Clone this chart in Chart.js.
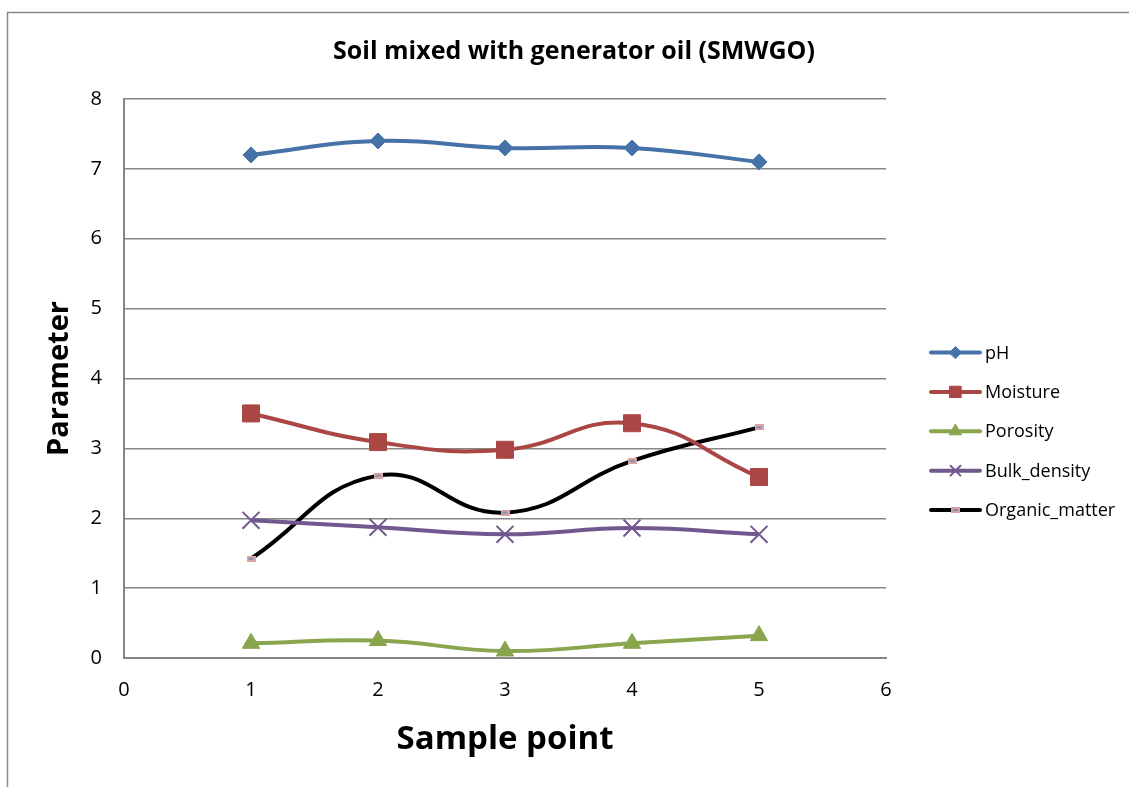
<!DOCTYPE html>
<html>
<head>
<meta charset="utf-8">
<script src="https://cdn.jsdelivr.net/npm/chart.js@4.4.0/dist/chart.umd.min.js"></script>
<style>
  html, body { margin: 0; padding: 0; background: #fff; overflow: hidden; }
  canvas { display: block; }
</style>
</head>
<body>
<canvas id="soilChart" width="1129" height="787"></canvas>
<script>
// values
const samplePoints = [1, 2, 3, 4, 5];
const phValues = [7.2, 7.4, 7.3, 7.3, 7.1];
const moistureValues = [3.5, 3.09, 2.98, 3.36, 2.59];
const porosityValues = [0.21, 0.25, 0.1, 0.21, 0.32];
const bulkDensityValues = [1.97, 1.87, 1.77, 1.86, 1.77];
const organicMatterValues = [1.42, 2.61, 2.08, 2.82, 3.3];
const seriesNames = ['pH', 'Moisture', 'Porosity', 'Bulk_density', 'Organic_matter'];

const FONT = '"Open Sans", sans-serif';
const GRID = '#868686';

function toPoints(values) {
  return samplePoints.map((x, i) => ({ x: x, y: values[i] }));
}

// small pink "dash" marker used by Excel for the organic matter series
function dashMarker(w, h) {
  const c = document.createElement('canvas');
  c.width = w; c.height = h;
  const g = c.getContext('2d');
  g.fillStyle = '#d9a3a2';
  g.fillRect(0, 0, w, h);
  g.fillStyle = '#7a8fc2';
  g.fillRect(2, Math.floor(h / 2) - 1, w - 4, 2);
  return c;
}

const seriesStyles = [
  { color: '#4572a7', point: 'rectRot', radius: 8, legendRadius: 6, borderW: 1 },
  { color: '#aa4643', point: 'rect', radius: 12, legendRadius: 8, borderW: 1 },
  { color: '#89a54e', point: 'triangle', radius: 10, legendRadius: 7, borderW: 1 },
  { color: '#71588f', point: 'crossRot', radius: 12, legendRadius: 7, borderW: 2 },
  { color: '#000000', point: dashMarker(9, 6), radius: 5, legendRadius: 5, borderW: 1 }
];
const seriesValues = [phValues, moistureValues, porosityValues, bulkDensityValues, organicMatterValues];

const datasets = seriesNames.map((name, i) => {
  const s = seriesStyles[i];
  return {
    label: name,
    data: toPoints(seriesValues[i]),
    borderColor: s.color,
    backgroundColor: s.color,
    borderWidth: 4,
    tension: 0.45,
    pointStyle: s.point,
    pointRadius: s.radius,
    pointHoverRadius: s.radius,
    pointBorderColor: s.color,
    pointBackgroundColor: s.color,
    pointBorderWidth: s.borderW
  };
});

// outer frame of the chart object
const framePlugin = {
  id: 'frame',
  beforeDraw(chart) {
    const ctx = chart.ctx;
    ctx.save();
    ctx.fillStyle = '#fff';
    ctx.fillRect(0, 0, chart.width, chart.height);
    ctx.strokeStyle = '#888';
    ctx.lineWidth = 1.5;
    ctx.strokeRect(7.5, 12.5, 3000, 3000);
    ctx.restore();
  }
};

// Excel style legend: line with the marker in the middle
const legendPlugin = {
  id: 'excelLegend',
  afterDraw(chart) {
    const ctx = chart.ctx;
    ctx.save();
    chart.data.datasets.forEach((ds, i) => {
      const y = 352.5 + i * 39.4;
      ctx.strokeStyle = ds.borderColor;
      ctx.lineWidth = 4;
      ctx.lineCap = 'round';
      ctx.beginPath();
      ctx.moveTo(931, y);
      ctx.lineTo(980, y);
      ctx.stroke();
      ctx.fillStyle = ds.pointBackgroundColor;
      ctx.strokeStyle = ds.pointBorderColor;
      ctx.lineWidth = ds.pointBorderWidth;
      Chart.helpers.drawPoint(ctx, {
        pointStyle: ds.pointStyle,
        rotation: 0,
        radius: seriesStyles[i].legendRadius,
        borderWidth: ds.pointBorderWidth
      }, 955.5, y);
      ctx.fillStyle = '#000';
      ctx.font = '18px ' + FONT;
      ctx.textAlign = 'left';
      ctx.textBaseline = 'middle';
      ctx.fillText(ds.label, 985, y + 1);
    });
    ctx.restore();
  }
};

new Chart(document.getElementById('soilChart'), {
  type: 'line',
  data: { datasets: datasets },
  plugins: [framePlugin, legendPlugin],
  options: {
    responsive: false,
    animation: false,
    devicePixelRatio: 1,
    layout: { padding: { left: 19, right: 0, top: 0, bottom: 0 } },
    plugins: {
      legend: { display: false },
      tooltip: { enabled: false },
      title: {
        display: true,
        text: 'Soil mixed with generator oil (SMWGO)',
        color: '#000',
        font: { family: FONT, size: 25, weight: 'bold' },
        padding: { top: 37, bottom: 32 }
      }
    },
    scales: {
      x: {
        type: 'linear',
        min: 0,
        max: 6,
        afterFit(scale) { scale.height = 129; },
        ticks: { stepSize: 1, color: '#000', padding: 20, font: { family: FONT, size: 20 } },
        grid: { display: false, drawTicks: false },
        border: { display: true, color: GRID, width: 2 },
        title: {
          display: true,
          text: 'Sample point',
          color: '#000',
          font: { family: FONT, size: 33, weight: 'bold' },
          padding: { top: 0, bottom: 28 }
        }
      },
      y: {
        min: 0,
        max: 8,
        afterFit(scale) { scale.width = 105; },
        ticks: { stepSize: 1, color: '#000', padding: 22, font: { family: FONT, size: 20 } },
        grid: { color: GRID, lineWidth: 1.5, drawTicks: false },
        border: { display: true, color: GRID, width: 2 },
        title: {
          display: true,
          text: 'Parameter',
          color: '#000',
          font: { family: FONT, size: 29, weight: 'bold' },
          padding: { top: 23, bottom: 0 }
        }
      },
      // empty box on the right that keeps room for the legend
      legendRoom: {
        type: 'linear',
        position: 'right',
        min: 0,
        max: 8,
        afterFit(scale) { scale.width = 243; },
        ticks: { display: false },
        grid: { display: false, drawTicks: false },
        border: { display: false }
      }
    }
  }
});
</script>
</body>
</html>
